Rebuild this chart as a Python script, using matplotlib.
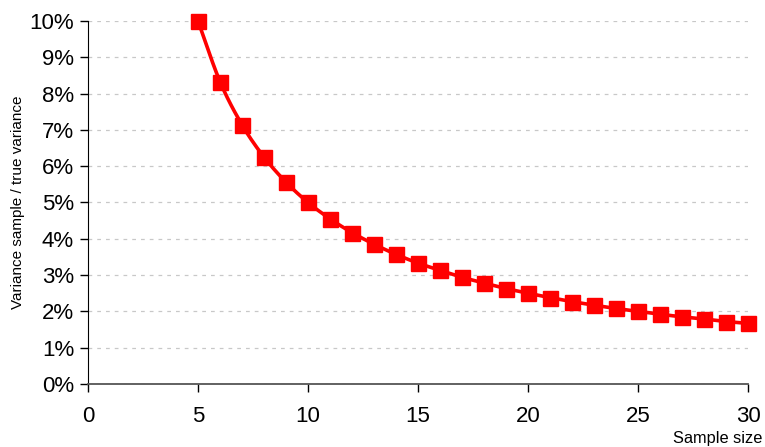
import numpy as np
import matplotlib
matplotlib.use("Agg")
from matplotlib import pyplot as plt
from matplotlib.ticker import FuncFormatter

plt.rcParams['font.family'] = ['Liberation Sans', 'DejaVu Sans']

# data
sample_size = [5, 6, 7, 8, 9, 10, 11, 12, 13, 14, 15, 16, 17, 18, 19, 20,
               21, 22, 23, 24, 25, 26, 27, 28, 29, 30]
ratio = [0.1000, 0.0833, 0.0714, 0.0625, 0.0556, 0.0500, 0.0455, 0.0417,
         0.0385, 0.0357, 0.0333, 0.0313, 0.0294, 0.0278, 0.0263, 0.0250,
         0.0238, 0.0227, 0.0217, 0.0208, 0.0200, 0.0192, 0.0185, 0.0179,
         0.0172, 0.0167]
y_ticks = [0, 0.01, 0.02, 0.03, 0.04, 0.05, 0.06, 0.07, 0.08, 0.09, 0.10]
x_ticks = [0, 5, 10, 15, 20, 25, 30]


def smooth(x, y, n=12):
    # catmull-rom through the points, like excel's smoothed line
    x = np.asarray(x, float)
    y = np.asarray(y, float)
    px = np.concatenate([[2 * x[0] - x[1]], x, [2 * x[-1] - x[-2]]])
    py = np.concatenate([[2 * y[0] - y[1]], y, [2 * y[-1] - y[-2]]])
    xs, ys = [], []
    t = np.linspace(0, 1, n, endpoint=False)
    for i in range(1, len(px) - 2):
        for p, out in ((px, xs), (py, ys)):
            p0, p1, p2, p3 = p[i - 1], p[i], p[i + 1], p[i + 2]
            out.extend(0.5 * ((2 * p1) + (-p0 + p2) * t
                              + (2 * p0 - 5 * p1 + 4 * p2 - p3) * t ** 2
                              + (-p0 + 3 * p1 - 3 * p2 + p3) * t ** 3))
    xs.append(x[-1])
    ys.append(y[-1])
    return xs, ys


fig = plt.figure(figsize=(7.65, 4.47), dpi=100)
ax = fig.add_axes([0.115, 0.141, 0.863, 0.812])

sx, sy = smooth(sample_size, ratio)
ax.plot(sx, sy, color='#ff0000', lw=2.6, zorder=3)
ax.plot(sample_size, ratio, 's', color='#ff0000', ms=10.8, zorder=4, clip_on=False)

ax.set_xlim(0, 30)
ax.set_ylim(0, 0.10)
ax.set_xticks(x_ticks)
ax.set_yticks(y_ticks)
ax.yaxis.set_major_formatter(FuncFormatter(lambda v, p: '%d%%' % round(v * 100)))
ax.grid(axis='y', ls=(0, (3, 4)), color='#c8c8c8', lw=0.9)
ax.set_axisbelow(True)

for s in ['top', 'right']:
    ax.spines[s].set_visible(False)
ax.spines['left'].set_color('black')
ax.spines['bottom'].set_color('#555555')
ax.spines['bottom'].set_linewidth(1.3)
ax.tick_params(axis='both', direction='out', length=6, labelsize=16, width=1)
ax.tick_params(axis='x', pad=10)
ax.tick_params(axis='y', pad=4)

ax.set_ylabel('Variance sample / true variance', fontsize=11, va='center')
ax.yaxis.set_label_coords(-0.106, 0.5)
fig.text(0.996, 0.002, 'Sample size', fontsize=11.8, ha='right', va='bottom')

fig.savefig('out.png', dpi=100)
